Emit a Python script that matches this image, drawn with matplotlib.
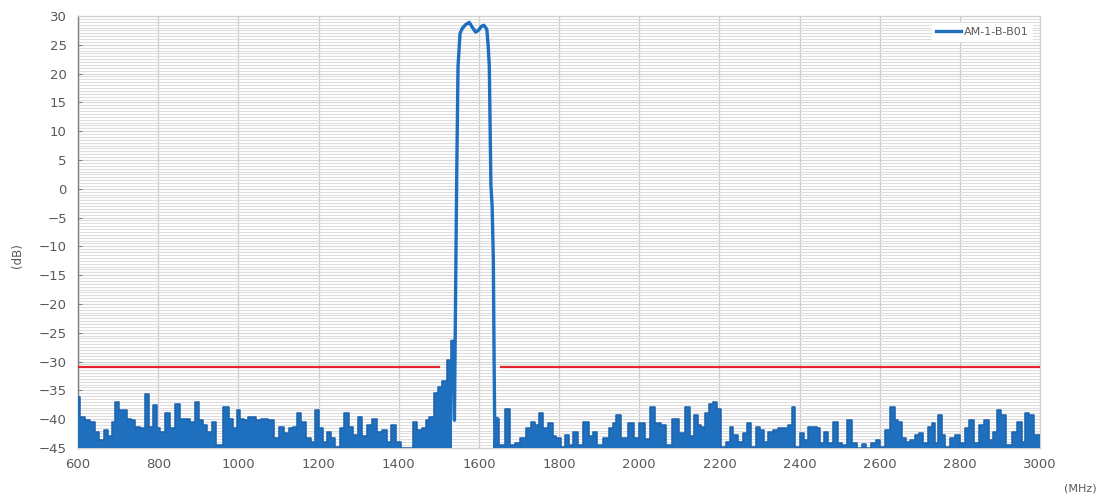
import numpy as np
import matplotlib.pyplot as plt
from matplotlib.ticker import MultipleLocator

# ── data (MHz, dB) ───────────────────────────────────────────────────────────
FREQ = [
    600, 611, 623, 636, 648, 659, 670, 680, 688, 696, 707, 717, 726, 736, 748,
    761, 771, 782, 792, 801, 809, 823, 836, 848, 861, 873, 886, 896, 907, 917,
    928, 938, 952, 969, 982, 992, 1001, 1009, 1019, 1030, 1038, 1050, 1065,
    1082, 1094, 1107, 1120, 1132, 1142, 1151, 1161, 1176, 1188, 1196, 1207,
    1217, 1226, 1236, 1248, 1259, 1270, 1282, 1292, 1303, 1315, 1328, 1340,
    1353, 1365, 1376, 1386, 1399, 1410, 1420, 1430, 1440, 1453, 1463, 1471,
    1482, 1492, 1503, 1515, 1526, 1534,
    # pass band
    1539, 1543, 1545, 1548, 1553, 1559, 1567, 1576, 1584, 1592, 1600, 1606,
    1612, 1617, 1620, 1623, 1626, 1630, 1633, 1636, 1638, 1640,
    # upper stop band
    1645, 1657, 1673, 1684, 1696, 1711, 1723, 1736, 1746, 1755, 1767, 1780,
    1788, 1799, 1811, 1821, 1830, 1840, 1853, 1867, 1880, 1888, 1900, 1917,
    1930, 1938, 1948, 1963, 1980, 1993, 2007, 2020, 2034, 2046, 2061, 2074,
    2088, 2109, 2121, 2132, 2142, 2151, 2159, 2170, 2180, 2188, 2198, 2211,
    2221, 2230, 2240, 2253, 2263, 2273, 2286, 2296, 2307, 2317, 2328, 2340,
    2353, 2365, 2376, 2384, 2395, 2405, 2415, 2426, 2438, 2447, 2455, 2465,
    2478, 2490, 2503, 2511, 2524, 2536, 2551, 2559, 2572, 2586, 2596, 2607,
    2619, 2632, 2642, 2651, 2661, 2671, 2682, 2692, 2703, 2715, 2726, 2734,
    2742, 2751, 2759, 2769, 2782, 2794, 2807, 2817, 2828, 2840, 2853, 2865,
    2878, 2888, 2896, 2907, 2922, 2936, 2949, 2959, 2967, 2978, 2990, 3000,
]
LEVEL = [
    -36.1, -39.6, -40.2, -40.5, -42.2, -43.6, -41.9, -43.0, -40.5, -37.0,
    -38.4, -38.4, -39.9, -40.2, -41.3, -41.6, -35.6, -41.3, -37.6, -41.6,
    -42.2, -39.0, -41.6, -37.3, -39.9, -39.9, -40.5, -37.0, -40.2, -41.0,
    -42.2, -40.5, -44.5, -37.9, -39.9, -41.6, -38.4, -39.9, -40.2, -39.6,
    -39.6, -40.2, -39.9,
    -40.2, -43.3, -41.3, -42.5, -41.6, -41.3, -39.0, -40.5, -43.3, -43.9,
    -38.4, -41.6, -43.9, -42.2, -43.3, -44.8, -41.6, -39.0, -41.3, -42.8,
    -39.6, -43.0, -41.0, -39.9, -42.2, -41.9, -43.9, -41.0, -43.9, -45.0,
    -45.0, -45.0, -40.5, -41.9, -41.6, -40.2, -39.6, -35.5, -34.4, -33.3,
    -29.8, -26.5,
    -40.2, -10.0, 4.0, 21.3, 27.0, 27.9, 28.5, 28.9, 28.0, 27.2, 27.6, 28.2,
    28.4, 28.0, 27.6, 25.0, 21.3, 0.6, -3.0, -12.0, -30.0, -45.0,
    -39.9, -44.5, -38.2, -44.5, -44.2, -43.3, -41.6, -40.5, -41.0, -39.0,
    -41.6, -40.7, -43.0, -43.3, -44.8, -42.8, -44.5, -42.2, -44.5, -40.5,
    -43.0, -42.2, -44.5, -43.3, -41.6, -40.7, -39.3, -43.3, -40.7, -43.3,
    -40.7, -43.5, -37.9, -40.7, -41.0, -44.5,
    -39.9, -42.5, -37.9, -43.0, -39.3, -41.0, -41.3, -39.0, -37.3, -37.0,
    -38.2, -44.8, -43.9, -41.3, -42.8, -43.9, -42.5, -40.7, -44.8, -41.3,
    -41.9, -43.9, -42.2, -41.9, -41.6, -41.6, -41.0, -37.9, -44.8, -42.5,
    -43.6, -41.3, -41.3, -41.6, -44.2, -42.2, -44.2, -40.5, -44.2, -44.5,
    -40.2, -44.2, -45.0, -44.4, -45.0, -44.2, -43.6, -44.8, -41.9, -37.9,
    -40.2, -40.5, -43.3, -43.9, -43.6, -42.8, -42.5, -44.2, -41.3, -40.7,
    -44.2, -39.3, -42.8, -44.8, -43.3, -42.8, -44.2, -41.6, -40.2, -44.2,
    -41.0, -40.2, -43.6, -42.2, -38.4, -39.3, -44.5, -42.2, -40.5, -43.9,
    -39.0, -39.3, -42.8, -42.8,
]
PASS_LO, PASS_HI = 1536, 1641          # region drawn as plain outline

LIMIT_DB = -31
LIMIT_SEGMENTS = [(600, 1500), (1655, 3000)]

SERIES_NAME = "AM-1-B-B01"
BLUE = "#1f6fbf"
RED = "#e3262d"

freq = np.array(FREQ, dtype=float)
level = np.array(LEVEL, dtype=float)

# ── figure ───────────────────────────────────────────────────────────────────
fig = plt.figure(figsize=(11.10, 5.01), dpi=100)
ax = fig.add_axes([0.0703, 0.106, 0.8667, 0.862])

# noise floor: dense trace -> drawn as a filled step area
noise = (freq <= PASS_LO) | (freq >= PASS_HI)
ax.fill_between(freq, -46, level, where=noise, step="mid",
                color=BLUE, linewidth=0, zorder=3)
ax.step(np.where(noise, freq, np.nan), level, where="mid",
        color="#1a62ad", linewidth=1.1, zorder=3)

# pass band outline
band = (freq >= PASS_LO - 2) & (freq <= PASS_HI + 5)
ax.plot(freq[band], level[band], color=BLUE, linewidth=2.4,
        solid_joinstyle="round", zorder=4, label=SERIES_NAME)

# limit line
for x0, x1 in LIMIT_SEGMENTS:
    ax.plot([x0, x1], [LIMIT_DB, LIMIT_DB], color=RED, linewidth=1.6, zorder=5)

# ── axes styling ─────────────────────────────────────────────────────────────
ax.set_xlim(600, 3000)
ax.set_ylim(-45, 30)
ax.xaxis.set_major_locator(MultipleLocator(200))
ax.yaxis.set_major_locator(MultipleLocator(5))
ax.yaxis.set_minor_locator(MultipleLocator(0.5))

ax.grid(which="major", axis="x", color="#c9c9c9", linewidth=0.9, zorder=0)
ax.grid(which="minor", axis="y", color="#dedede", linewidth=0.8, zorder=0)
ax.grid(which="major", axis="y", color="#d6d6d6", linewidth=0.8, zorder=0)
ax.set_axisbelow(True)

for side in ("top", "right", "bottom"):
    ax.spines[side].set_color("#d0d0d0")
    ax.spines[side].set_linewidth(0.9)
ax.spines["left"].set_color("#7f7f7f")
ax.spines["left"].set_linewidth(1.0)

ax.tick_params(axis="y", which="major", direction="in", length=3,
               color="#7f7f7f", labelsize=9.5, labelcolor="#595959", pad=8)
ax.tick_params(axis="y", which="minor", length=0)
ax.tick_params(axis="x", which="major", length=0, labelsize=9.5,
               labelcolor="#595959", pad=7)

fig.text(0.016, 0.49, "(dB)", rotation=90, ha="center", va="center",
         fontsize=8.5, color="#595959")
fig.text(0.973, 0.025, "(MHz)", ha="center", va="center",
         fontsize=8, color="#595959")

leg = ax.legend(loc="upper right", fontsize=8, frameon=True, framealpha=1,
                edgecolor="none", handlelength=2.2, borderaxespad=0.6,
                handletextpad=0.3)
for t in leg.get_texts():
    t.set_color("#595959")

fig.savefig("out.png", dpi=100, facecolor="white")
